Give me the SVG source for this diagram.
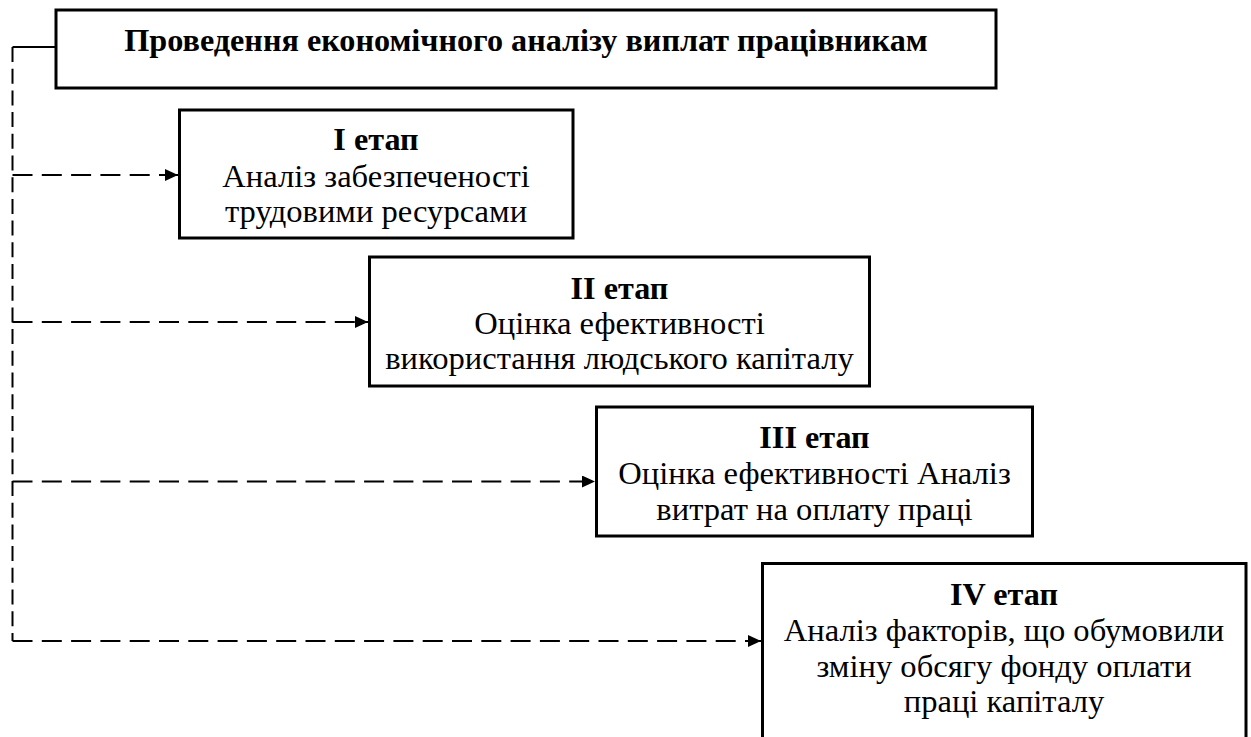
<svg xmlns="http://www.w3.org/2000/svg" width="1251" height="737" viewBox="0 0 1251 737">
<style>
.box{fill:#fff;stroke:#000;stroke-width:3}
.t{font-family:"Liberation Serif","Times New Roman",serif;font-size:32.6px;fill:#000;text-anchor:middle}
.b{font-weight:bold;font-size:32.2px}
.dash{fill:none;stroke:#000;stroke-width:2;stroke-dasharray:20 9.3}
.vdash{fill:none;stroke:#000;stroke-width:2;stroke-dasharray:15 6.7}
</style>
<defs>
<marker id="arr" markerWidth="13" markerHeight="12" refX="13" refY="6" orient="auto" markerUnits="userSpaceOnUse">
<path d="M0,0 L13,6 L0,12 Z" fill="#000"/>
</marker>
</defs>
<g id="connectors">
<path d="M56,47 H12.5" fill="none" stroke="#000" stroke-width="2"/>
<path class="vdash" d="M12.5,47 V641"/>
<path class="dash" d="M12.5,175 H178" marker-end="url(#arr)"/>
<path class="dash" d="M12.5,322 H368" marker-end="url(#arr)"/>
<path class="dash" d="M12.5,481.5 H595" marker-end="url(#arr)"/>
<path class="dash" d="M12.5,641 H761" marker-end="url(#arr)"/>
</g>
<g id="node-main">
<rect class="box" x="56" y="10" width="940" height="78"/>
<text class="t b" x="526" y="51">Проведення економічного аналізу виплат працівникам</text>
</g>
<g id="node-stage1">
<rect class="box" x="179.5" y="110" width="393.5" height="128"/>
<text class="t b" x="376" y="150">І етап</text>
<text class="t" x="376" y="186.5">Аналіз забезпеченості</text>
<text class="t" x="376" y="221.5">трудовими ресурсами</text>
</g>
<g id="node-stage2">
<rect class="box" x="369.5" y="257" width="500" height="129"/>
<text class="t b" x="619.5" y="298.5">ІІ етап</text>
<text class="t" x="619.5" y="334">Оцінка ефективності</text>
<text class="t" x="619.5" y="369">використання людського капіталу</text>
</g>
<g id="node-stage3">
<rect class="box" x="596.5" y="407" width="436" height="129"/>
<text class="t b" x="814.5" y="448">ІІІ етап</text>
<text class="t" x="814.5" y="484">Оцінка ефективності Аналіз</text>
<text class="t" x="814.5" y="519.5">витрат на оплату праці</text>
</g>
<g id="node-stage4">
<rect class="box" x="762.5" y="563.5" width="483.5" height="200"/>
<text class="t b" x="1004" y="604.5">IV етап</text>
<text class="t" x="1004" y="640.5">Аналіз факторів, що обумовили</text>
<text class="t" x="1004" y="676.5">зміну обсягу фонду оплати</text>
<text class="t" x="1004" y="712">праці капіталу</text>
</g>
</svg>
